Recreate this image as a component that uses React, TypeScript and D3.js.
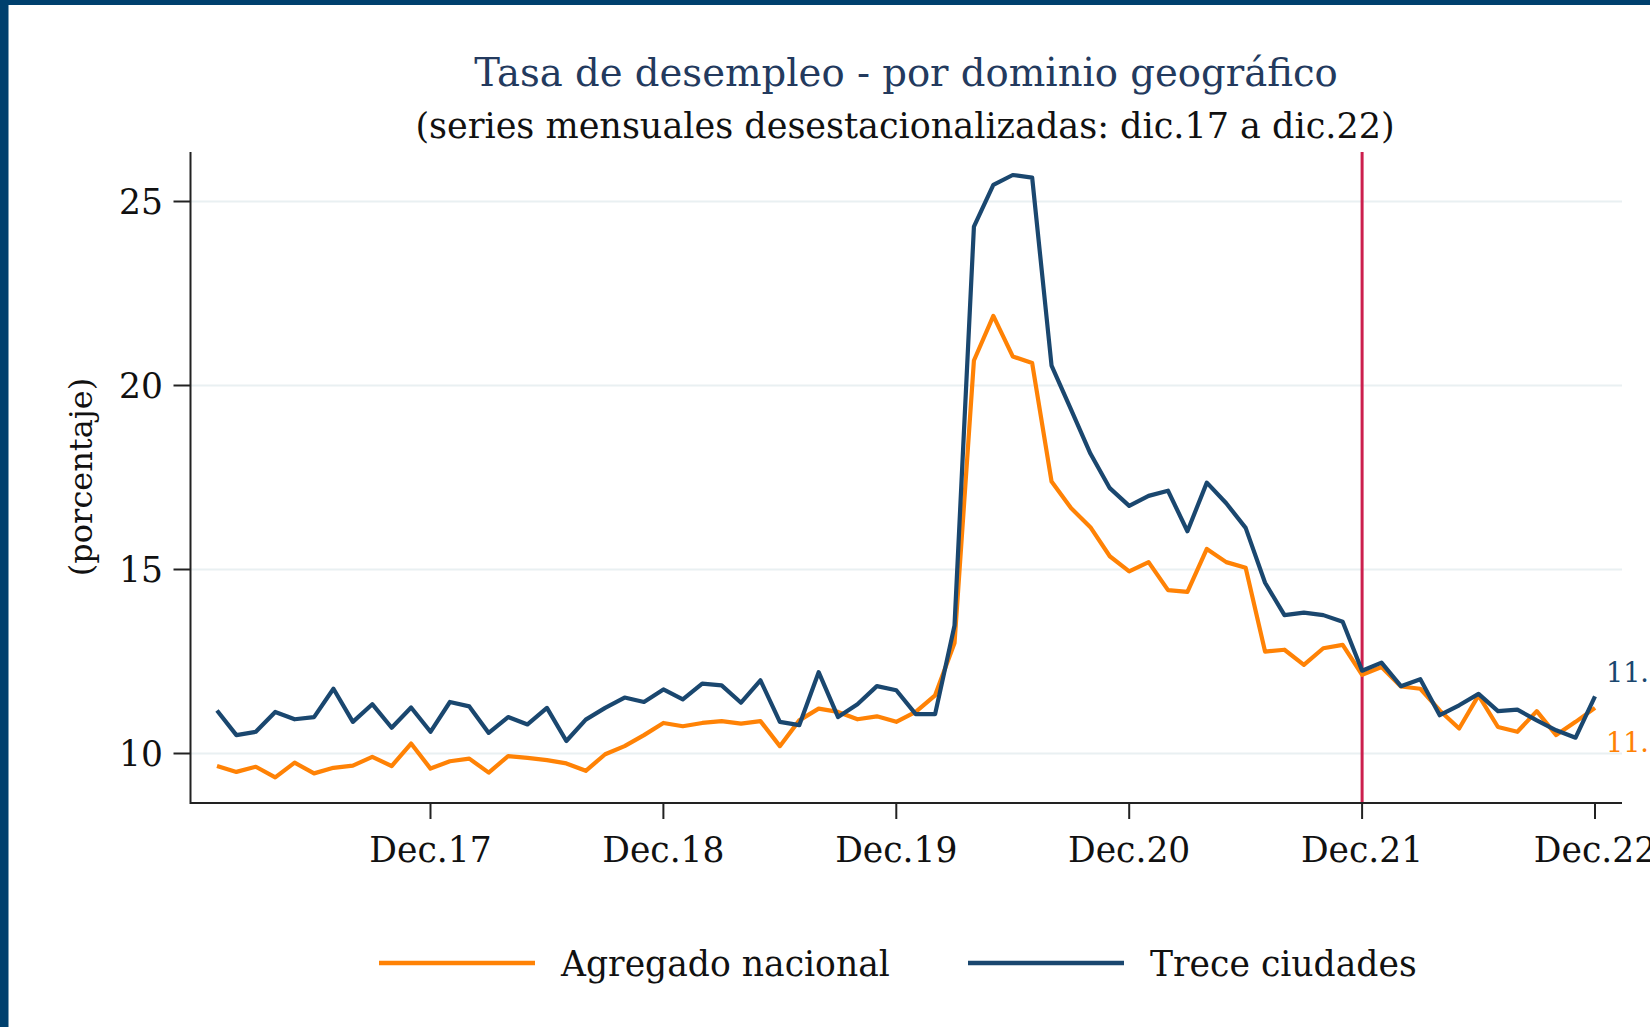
import React from 'react';
import * as d3 from 'd3';

const W = 1650;
const H = 1027;

// Jan.2017 .. Dec.2022 (72 monthly, seasonally adjusted values)
const agregadoNacional = [
  9.66, 9.5, 9.64, 9.35, 9.75, 9.46, 9.61, 9.67, 9.91, 9.66, 10.27, 9.59,
  9.79, 9.86, 9.48, 9.93, 9.88, 9.82, 9.73, 9.53, 9.98, 10.2, 10.5, 10.83,
  10.74, 10.83, 10.88, 10.81, 10.88, 10.2, 10.9, 11.22, 11.13, 10.93, 11.01, 10.86,
  11.13, 11.58, 13.0, 20.68, 21.89, 20.79, 20.61, 17.39, 16.67, 16.15, 15.36, 14.95,
  15.2, 14.44, 14.39, 15.56, 15.2, 15.05, 12.77, 12.82, 12.41, 12.86, 12.95, 12.14,
  12.35, 11.82, 11.76, 11.17, 10.68, 11.58, 10.72, 10.59, 11.15, 10.5, 10.86, 11.24,
];
const treceCiudades = [
  11.17, 10.5, 10.59, 11.13, 10.93, 10.99, 11.76, 10.86, 11.34, 10.7, 11.25, 10.59,
  11.4, 11.28, 10.56, 10.99, 10.79, 11.24, 10.34, 10.92, 11.24, 11.52, 11.4, 11.74,
  11.47, 11.9, 11.85, 11.38, 11.99, 10.86, 10.77, 12.21, 10.99, 11.34, 11.83, 11.72,
  11.07, 11.07, 13.48, 24.32, 25.45, 25.72, 25.65, 20.54, 19.35, 18.15, 17.21, 16.73,
  17.0, 17.14, 16.04, 17.36, 16.8, 16.13, 14.64, 13.76, 13.83, 13.76, 13.58, 12.25,
  12.47, 11.83, 12.02, 11.04, 11.31, 11.62, 11.15, 11.19, 10.9, 10.63, 10.43, 11.55,
];
const xTickLabels = ['Dec.17', 'Dec.18', 'Dec.19', 'Dec.20', 'Dec.21', 'Dec.22'];
const xTickIndex = [11, 23, 35, 47, 59, 71];
const yTicks = [10, 15, 20, 25];
const markerIndex = 59;
const endLabels = ['11.5', '11.2'];
const seriesNames = ['Agregado nacional', 'Trece ciudades'];

const ORANGE = '#ff8205';
const NAVY = '#1a476f';
const RED = '#cc1f4d';
const GRID = '#e9f0f2';
const FRAME = '#00406e';
const FONT = "'DejaVu Serif', serif";

export default function App() {
  const x = d3.scaleLinear().domain([0, 71]).range([217, 1595]);
  const y = d3.scaleLinear().domain([10, 25]).range([753.5, 201.5]);
  const line = d3
    .line<number>()
    .x((_, i) => x(i))
    .y((d) => y(d));

  const axisLeft = 190.5;
  const axisBottom = 803;
  const plotRight = 1622;
  const plotTop = 152;

  return (
    <svg
      width={W}
      height={H}
      style={{ position: 'absolute', left: 0, top: 0, display: 'block', background: '#fff' }}
      fontFamily={FONT}
    >
      <rect x={0} y={0} width={W} height={H} fill="#fff" />
      <rect x={0} y={0} width={W} height={5} fill={FRAME} />
      <rect x={0} y={0} width={8.5} height={H} fill={FRAME} />

      {/* titles */}
      <text x={906} y={86} textAnchor="middle" fontSize={38.6} fill="#233a5e">
        Tasa de desempleo - por dominio geográfico
      </text>
      <text x={905} y={138} textAnchor="middle" fontSize={35} fill="#111">
        (series mensuales desestacionalizadas: dic.17 a dic.22)
      </text>

      {/* grid */}
      {yTicks.map((t) => (
        <line key={'g' + t} x1={axisLeft} x2={plotRight} y1={y(t)} y2={y(t)} stroke={GRID} strokeWidth={2.2} />
      ))}

      {/* marker line */}
      <line x1={x(markerIndex)} x2={x(markerIndex)} y1={plotTop} y2={axisBottom} stroke={RED} strokeWidth={3} />

      {/* series */}
      <path d={line(agregadoNacional) || ''} fill="none" stroke={ORANGE} strokeWidth={4.2} strokeLinejoin="round" />
      <path d={line(treceCiudades) || ''} fill="none" stroke={NAVY} strokeWidth={4.2} strokeLinejoin="round" />

      {/* axes */}
      <line x1={axisLeft} x2={axisLeft} y1={plotTop} y2={axisBottom + 1} stroke="#222" strokeWidth={2} />
      <line x1={axisLeft} x2={plotRight} y1={axisBottom} y2={axisBottom} stroke="#222" strokeWidth={2} />
      {yTicks.map((t) => (
        <g key={'y' + t}>
          <line x1={axisLeft - 17} x2={axisLeft} y1={y(t)} y2={y(t)} stroke="#222" strokeWidth={2} />
          <text x={163} y={y(t)} dy="0.36em" textAnchor="end" fontSize={34.5} fill="#111">
            {t}
          </text>
        </g>
      ))}
      {xTickIndex.map((m, k) => (
        <g key={'x' + m}>
          <line x1={x(m)} x2={x(m)} y1={axisBottom} y2={axisBottom + 16} stroke="#222" strokeWidth={2} />
          <text x={x(m)} y={862} textAnchor="middle" fontSize={34.5} fill="#111">
            {xTickLabels[k]}
          </text>
        </g>
      ))}

      {/* y title */}
      <text transform="translate(92,477) rotate(-90)" textAnchor="middle" fontSize={32} fill="#111">
        (porcentaje)
      </text>

      {/* end labels */}
      <text x={1606} y={672} dy="0.36em" fontSize={27} fill={NAVY}>
        {endLabels[0]}
      </text>
      <text x={1606} y={742} dy="0.36em" fontSize={27} fill={ORANGE}>
        {endLabels[1]}
      </text>

      {/* legend */}
      <line x1={379} x2={535} y1={963} y2={963} stroke={ORANGE} strokeWidth={4.5} />
      <text x={561} y={976} fontSize={34.6} fill="#111">
        {seriesNames[0]}
      </text>
      <line x1={968} x2={1124} y1={963} y2={963} stroke={NAVY} strokeWidth={4.5} />
      <text x={1150} y={976} fontSize={34.6} fill="#111">
        {seriesNames[1]}
      </text>
    </svg>
  );
}
